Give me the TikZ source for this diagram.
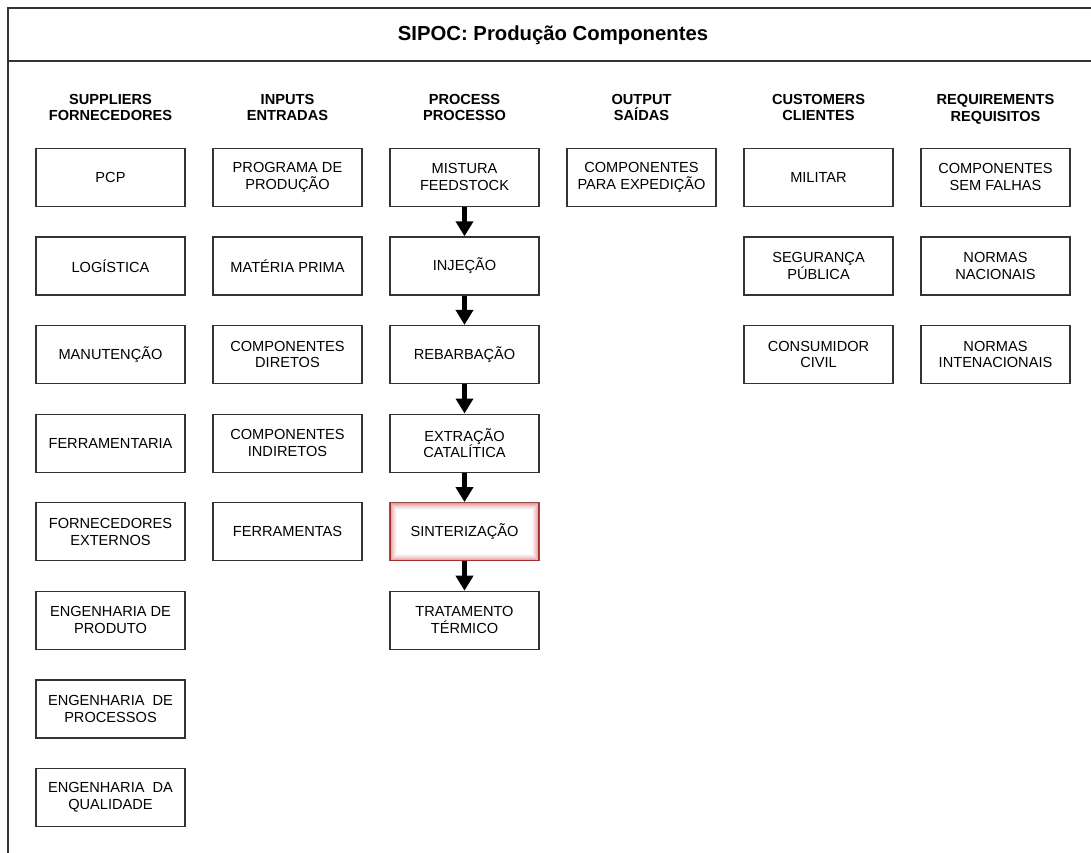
\documentclass[tikz,border=0pt]{standalone}
\usepackage{fontspec}
\setmainfont{Liberation Sans}
\usetikzlibrary{arrows.meta,calc}
\tikzset{
  cell/.style={draw=black!80, line width=1.2pt, fill=white, minimum width=149pt, minimum height=58pt, inner sep=0pt, align=center, font=\fontsize{14.6}{16.8}\selectfont},
  head/.style={align=center, font=\fontsize{14.6}{16.8}\selectfont\bfseries, inner sep=0pt},
  flow/.style={-{Triangle[length=15pt,width=17pt]}, line width=5.5pt, black},
  frame/.style={line width=1.4pt, black!80}
}
\begin{document}
\begin{tikzpicture}[x=1pt,y=-1pt]
\useasboundingbox (0,0) rectangle (1091,853);
% frame
\coordinate (f1) at (1091,8);
\coordinate (f2) at (8,8);
\coordinate (f3) at (8,853);
\coordinate (f4) at (8,61);
\coordinate (f5) at (1091,61);
\draw[frame] (f1) -- (f2) -- (f3);
\draw[frame] (f4) -- (f5);
\node[font=\fontsize{20.3}{24}\selectfont\bfseries, inner sep=0pt] (title) at (553,35) {SIPOC: Produção Componentes};
% headers
\node[head] (hs) at (110.5,107.5) {SUPPLIERS\\FORNECEDORES};
\node[head] (hi) at (287.5,107.5) {INPUTS\\ENTRADAS};
\node[head] (hp) at (464.5,107.5) {PROCESS\\PROCESSO};
\node[head] (ho) at (641.5,107.5) {OUTPUT\\SAÍDAS};
\node[head] (hc) at (818.5,107.5) {CUSTOMERS\\CLIENTES};
\node[head] (hr) at (995.5,109.2) {REQUIREMENTS\\REQUISITOS};
% suppliers
\node[cell] (s0) at (110.5,177.3) {PCP};
\node[cell] (s1) at (110.5,265.9) {LOGÍSTICA};
\node[cell] (s2) at (110.5,354.5) {MANUTENÇÃO};
\node[cell] (s3) at (110.5,443.1) {FERRAMENTARIA};
\node[cell] (s4) at (110.5,531.7) {FORNECEDORES\\EXTERNOS};
\node[cell] (s5) at (110.5,620.3) {ENGENHARIA DE\\PRODUTO};
\node[cell] (s6) at (110.5,708.9) {ENGENHARIA\ \ DE\\PROCESSOS};
\node[cell] (s7) at (110.5,797.5) {ENGENHARIA\ \ DA\\QUALIDADE};
% inputs
\node[cell] (i0) at (287.5,177.3) {PROGRAMA DE\\PRODUÇÃO};
\node[cell] (i1) at (287.5,265.9) {MATÉRIA PRIMA};
\node[cell] (i2) at (287.5,354.5) {COMPONENTES\\DIRETOS};
\node[cell] (i3) at (287.5,443.1) {COMPONENTES\\INDIRETOS};
\node[cell] (i4) at (287.5,531.7) {FERRAMENTAS};
% process
\node[cell] (p0) at (464.5,177.3) {MISTURA\\FEEDSTOCK};
\node[cell] (p1) at (464.5,265.9) {INJEÇÃO};
\node[cell] (p2) at (464.5,354.5) {REBARBAÇÃO};
\node[cell] (p3) at (464.5,443.1) {EXTRAÇÃO\\CATALÍTICA};
\node[cell, draw=black!60!red!70] (p4) at (464.5,531.7) {SINTERIZAÇÃO};
\foreach \k/\o in {1/0.40,2/0.32,3/0.25,4/0.19,5/0.13,6/0.08,7/0.04}{
  \draw[red!75!black, opacity=\o, line width=1pt]
    ($(p4.north west)+(\k,\k)$) rectangle ($(p4.south east)+(-\k,-\k)$);
}
\node[cell] (p5) at (464.5,620.3) {TRATAMENTO\\TÉRMICO};
\draw[flow] (p0.south) -- (p1.north);
\draw[flow] (p1.south) -- (p2.north);
\draw[flow] (p2.south) -- (p3.north);
\draw[flow] (p3.south) -- (p4.north);
\draw[flow] (p4.south) -- (p5.north);
% output
\node[cell] (o0) at (641.5,177.3) {COMPONENTES\\PARA EXPEDIÇÃO};
% customers
\node[cell] (c0) at (818.5,177.3) {MILITAR};
\node[cell] (c1) at (818.5,265.9) {SEGURANÇA\\PÚBLICA};
\node[cell] (c2) at (818.5,354.5) {CONSUMIDOR\\CIVIL};
% requirements
\node[cell] (r0) at (995.5,177.3) {COMPONENTES\\SEM FALHAS};
\node[cell] (r1) at (995.5,265.9) {NORMAS\\NACIONAIS};
\node[cell] (r2) at (995.5,354.5) {NORMAS\\INTENACIONAIS};
\end{tikzpicture}
\end{document}
